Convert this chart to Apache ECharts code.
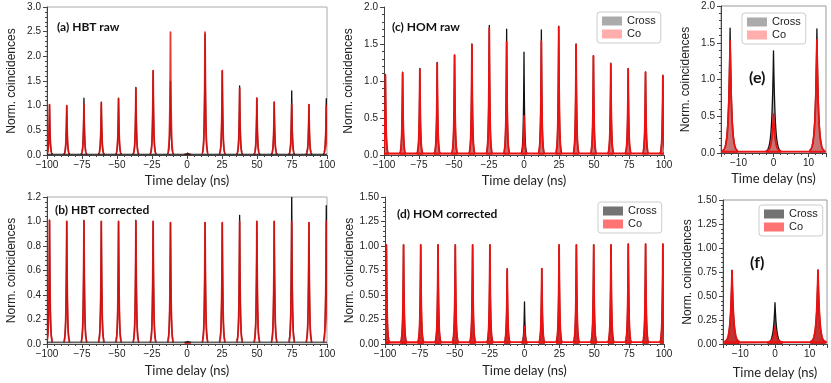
<!DOCTYPE html>
<html>
<head>
<meta charset="utf-8">
<script src="https://cdn.jsdelivr.net/npm/echarts@6.0.0/dist/echarts.min.js"></script>
<style>
  html, body { margin: 0; padding: 0; background: #fff; }
  #chart { width: 831px; height: 383px; }
</style>
</head>
<body>
<div id="chart"></div>
<script>
// peak centres (ns) and peak heights
const hbtX = [-98.2, -85.9, -73.6, -61.2, -48.9, -36.5, -24.2, -11.8, 0.5, 12.9, 25.2, 37.6, 49.9, 62.3, 74.8, 87.1, 99.5];
const hbtRawCross = [1.02, 1.0, 1.15, 1.07, 1.15, 1.37, 1.71, 1.49, 0.04, 2.45, 1.71, 1.40, 1.15, 1.07, 1.30, 1.02, 1.14];
const hbtRawCo = [1.02, 1.0, 1.03, 1.06, 1.14, 1.35, 1.71, 2.49, 0.01, 2.49, 1.71, 1.35, 1.15, 1.07, 1.03, 1.02, 1.0];
const hbtCorrCross = [1.01, 1.0, 1.01, 1.0, 1.0, 1.01, 1.0, 0.99, 0.02, 0.99, 0.99, 1.05, 1.0, 1.0, 1.25, 0.99, 1.13];
const hbtCorrCo = [1.01, 1.0, 1.0, 1.0, 1.0, 1.0, 1.0, 0.99, 0.01, 0.99, 0.99, 1.0, 1.0, 1.0, 1.0, 0.99, 1.0];

const homX = [-99.0, -86.7, -74.4, -62.0, -49.6, -37.2, -24.8, -12.4, 0, 12.4, 24.8, 37.2, 49.6, 62.0, 74.4, 86.8, 99.2];
const homRawCross = [1.09, 1.12, 1.17, 1.25, 1.35, 1.50, 1.75, 1.70, 1.39, 1.69, 1.74, 1.50, 1.34, 1.24, 1.17, 1.12, 1.08];
const homRawCo = [1.08, 1.11, 1.16, 1.24, 1.35, 1.49, 1.71, 1.53, 0.53, 1.54, 1.73, 1.49, 1.34, 1.23, 1.16, 1.12, 1.07];
const homCorrCross = [1.01, 1.01, 1.01, 1.01, 1.01, 1.01, 1.01, 0.77, 0.43, 0.77, 1.01, 1.01, 1.01, 1.01, 1.02, 1.02, 1.02];
const homCorrCo = [1.01, 1.01, 1.01, 1.01, 1.01, 1.01, 1.01, 0.76, 0.18, 0.77, 1.01, 1.01, 1.01, 1.01, 1.02, 1.02, 1.02];

// background level between peaks
const baseCross = 0.015;
const baseCo = 0.02;

const TAU = 0.45; // peak decay (ns), drawing style only
const RED = '#ee1111';
const BLACK = '#111111';

const chart = echarts.init(document.getElementById('chart'));

function pairs(xs, ys) {
  return xs.map((x, i) => [x, ys[i]]);
}

function peakRender(stroke, fill, lw, base, opacity) {
  return function (params, api) {
    const c = api.value(0), h = api.value(1);
    const line = [];
    for (let k = -44; k <= 44; k++) {
      const dx = k * 0.05;
      line.push(api.coord([c + dx, base + (h - base) * Math.exp(-Math.abs(dx) / TAU)]));
    }
    const y0 = api.coord([c, 0])[1];
    const kids = [];
    if (fill) {
      kids.push({
        type: 'polygon',
        shape: { points: line.concat([[line[line.length - 1][0], y0], [line[0][0], y0]]) },
        style: { fill: fill }
      });
    }
    kids.push({
      type: 'polyline',
      shape: { points: line },
      style: { fill: null, stroke: stroke, lineWidth: lw, lineJoin: 'round', opacity: opacity }
    });
    return { type: 'group', children: kids };
  };
}

function peaks(name, xs, ys, gi, stroke, fill, lw, base, opacity) {
  return {
    type: 'custom', name: name, xAxisIndex: gi, yAxisIndex: gi,
    clip: true, silent: true,
    itemStyle: { color: fill || stroke },
    encode: { x: 0, y: 1 },
    data: pairs(xs, ys),
    renderItem: peakRender(stroke, fill, lw, base, opacity == null ? 1 : opacity)
  };
}

function baseline(gi, xmin, xmax, level, color, lw, fill) {
  const s = {
    type: 'line', name: 'base' + gi + color, xAxisIndex: gi, yAxisIndex: gi,
    data: [[xmin, level], [xmax, level]],
    symbol: 'none', silent: true,
    lineStyle: { color: color, width: lw }
  };
  if (fill) s.areaStyle = { color: fill, opacity: 1 };
  return s;
}

const grids = [
  { left: 47, top: 7, width: 280, height: 148, show: true, borderColor: '#aaa', borderWidth: 1 },
  { left: 47, top: 197, width: 280, height: 147, show: true, borderColor: '#aaa', borderWidth: 1 },
  { left: 384, top: 7, width: 280, height: 148 },
  { left: 385, top: 197, width: 279, height: 147 },
  { left: 721, top: 6, width: 105, height: 147, show: true, borderColor: '#999', borderWidth: 1 },
  { left: 723, top: 200, width: 104, height: 144, show: true, borderColor: '#999', borderWidth: 1 }
];

const tickFont = { fontFamily: 'Liberation Sans', fontSize: 10, color: '#222' };
const minus = v => String(v).replace('-', '\u2212');

function xAxis(gi, min, max, opts, gap) {
  return Object.assign({
    type: 'value', gridIndex: gi, min: min, max: max,
    name: 'Time delay (ns)', nameLocation: 'middle', nameGap: gap,
    nameTextStyle: { fontFamily: 'Lato', fontSize: 13, color: '#222' },
    axisLine: { onZero: false, lineStyle: { color: '#444', width: 1 } },
    axisTick: { inside: false, length: 4, lineStyle: { color: '#444' } },
    minorTick: { show: true, splitNumber: 5, length: 2, lineStyle: { color: '#444' } },
    splitLine: { show: false },
    axisLabel: Object.assign({ margin: 5, formatter: minus }, tickFont)
  }, opts);
}

function yAxis(gi, max, interval, digits) {
  return {
    type: 'value', gridIndex: gi, min: 0, max: max, interval: interval,
    name: 'Norm. coincidences', nameLocation: 'middle', nameGap: 29,
    nameTextStyle: { fontFamily: 'Liberation Sans', fontSize: 12, color: '#222' },
    axisLine: { show: true, onZero: false, lineStyle: { color: '#444', width: 1 } },
    axisTick: { show: true, inside: false, length: 4, lineStyle: { color: '#444' } },
    minorTick: { show: true, splitNumber: 5, length: 2, lineStyle: { color: '#444' } },
    splitLine: { show: false },
    axisLabel: Object.assign({ margin: 6, formatter: v => v.toFixed(digits) }, tickFont)
  };
}

function legend(left, top, crossFill, coFill) {
  return {
    left: left, top: top, orient: 'vertical', icon: 'rect',
    itemWidth: 20, itemHeight: 9, itemGap: 1, selectedMode: false,
    padding: [3, 5, 3, 5],
    borderColor: '#ccc', borderWidth: 1, borderRadius: 3,
    backgroundColor: 'rgba(255,255,255,0.85)',
    textStyle: { fontFamily: 'Liberation Sans', fontSize: 11, color: '#222', lineHeight: 12 },
    data: [
      { name: 'Cross', itemStyle: { color: crossFill, borderWidth: 0 } },
      { name: 'Co', itemStyle: { color: coFill, borderWidth: 0 } }
    ]
  };
}

const titleStyle = { fontFamily: 'Lato', fontWeight: 'bold', fontSize: 12, color: '#111', lineHeight: 14 };
const bigTitle = Object.assign({}, titleStyle, { fontSize: 16, lineHeight: 18 });

const rawCrossFill = 'rgba(0,0,0,0.33)', rawCoFill = 'rgba(255,0,0,0.32)';
const corCrossFill = 'rgba(0,0,0,0.55)', corCoFill = 'rgba(255,0,0,0.55)';

const option = {
  animation: false,
  backgroundColor: '#fff',
  title: [
    { text: '(a) HBT raw', left: 57, top: 20, padding: 0, textStyle: titleStyle },
    { text: '(b) HBT corrected', left: 55, top: 203, padding: 0, textStyle: titleStyle },
    { text: '(c) HOM raw', left: 392, top: 20, padding: 0, textStyle: titleStyle },
    { text: '(d) HOM corrected', left: 397, top: 207, padding: 0, textStyle: titleStyle },
    { text: '(e)', left: 749, top: 69, padding: 0, textStyle: bigTitle },
    { text: '(f)', left: 750, top: 254, padding: 0, textStyle: bigTitle }
  ],
  legend: [
    legend(597, 12, rawCrossFill, rawCoFill),
    legend(598, 202, corCrossFill, corCoFill),
    legend(742, 13, rawCrossFill, rawCoFill),
    legend(759, 205, corCrossFill, corCoFill)
  ],
  grid: grids,
  xAxis: [
    xAxis(0, -100, 100, { interval: 25 }, 19),
    xAxis(1, -100, 100, { interval: 25 }, 20),
    xAxis(2, -100, 100, { interval: 25 }, 19),
    xAxis(3, -100, 100, { interval: 25 }, 20),
    xAxis(4, -15, 15, { splitNumber: 3, axisLabel: Object.assign({ margin: 5, showMinLabel: false, showMaxLabel: false, formatter: minus }, tickFont) }, 19),
    xAxis(5, -15, 15, { splitNumber: 3, axisLabel: Object.assign({ margin: 5, showMinLabel: false, showMaxLabel: false, formatter: minus }, tickFont) }, 22)
  ],
  yAxis: [
    yAxis(0, 3.0, 0.5, 1),
    yAxis(1, 1.2, 0.2, 1),
    yAxis(2, 2.0, 0.5, 1),
    yAxis(3, 1.5, 0.25, 2),
    yAxis(4, 2.0, 0.5, 1),
    yAxis(5, 1.5, 0.25, 2)
  ],
  series: [
    // (a) HBT raw
    peaks('HBT cross', hbtX, hbtRawCross, 0, BLACK, null, 1.3, baseCross),
    peaks('HBT co', hbtX, hbtRawCo, 0, RED, null, 1.8, 0.005, 0.85),
    baseline(0, -100, 100, baseCross, BLACK, 1),
    // (b) HBT corrected
    peaks('HBT cross', hbtX, hbtCorrCross, 1, BLACK, null, 1.3, baseCross),
    peaks('HBT co', hbtX, hbtCorrCo, 1, RED, null, 1.8, 0.005, 0.85),
    baseline(1, -100, 100, baseCross, BLACK, 1),
    // (c) HOM raw
    peaks('Cross', homX, homRawCross, 2, BLACK, rawCrossFill, 1.3, baseCross),
    peaks('Co', homX, homRawCo, 2, RED, rawCoFill, 1.8, baseCo),
    baseline(2, -100, 100, baseCo, RED, 1.8, rawCoFill),
    // (d) HOM corrected
    peaks('Cross', homX, homCorrCross, 3, BLACK, corCrossFill, 1.3, baseCross),
    peaks('Co', homX, homCorrCo, 3, RED, corCoFill, 1.8, baseCo),
    baseline(3, -100, 100, baseCo, RED, 1.8, corCoFill),
    // (e) HOM raw, zoom
    peaks('Cross', homX, homRawCross, 4, BLACK, rawCrossFill, 1.3, baseCross),
    peaks('Co', homX, homRawCo, 4, RED, rawCoFill, 1.8, baseCo),
    baseline(4, -15, 15, baseCo, RED, 1.8, rawCoFill),
    // (f) HOM corrected, zoom
    peaks('Cross', homX, homCorrCross, 5, BLACK, corCrossFill, 1.3, baseCross),
    peaks('Co', homX, homCorrCo, 5, RED, corCoFill, 1.8, baseCo),
    baseline(5, -15, 15, baseCo, RED, 1.8, corCoFill)
  ]
};

chart.setOption(option);
</script>
</body>
</html>
